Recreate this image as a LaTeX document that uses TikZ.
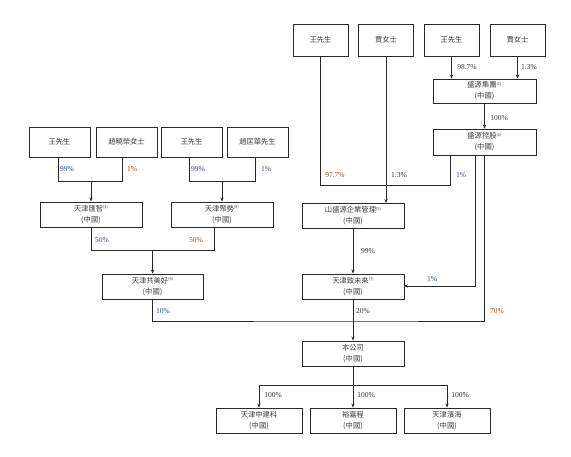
\documentclass[tikz,border=0pt]{standalone}
\usepackage{fontspec}
\setmainfont{Liberation Serif}
\newfontfamily\cjk{Noto Sans CJK TC}
\usetikzlibrary{arrows.meta}
\definecolor{lineC}{RGB}{40,40,40}
\definecolor{txtC}{RGB}{60,60,60}
\definecolor{lblD}{RGB}{55,55,55}
\definecolor{lblB}{RGB}{50,75,130}
\definecolor{lblO}{RGB}{140,85,35}
\newcommand{\nt}[1]{\raisebox{2.6pt}{\fontsize{4}{4}\selectfont(#1)}}
\tikzset{
  box/.style={draw=lineC, line width=0.9pt, align=center, inner sep=0pt,
    font=\cjk\fontsize{7.3}{11}\selectfont, text=txtC},
  pbox/.style={box, minimum width=55pt, minimum height=32pt},
  lbox/.style={box, minimum width=61pt, minimum height=30pt},
  ebox/.style={box, minimum width=102pt, minimum height=25pt},
  sbox/.style={box, minimum width=86pt, minimum height=25pt},
  conn/.style={draw=lineC, line width=0.8pt},
  arr/.style={conn, -{Stealth[length=4pt,width=3.2pt]}},
  pct/.style={font=\fontsize{7.5}{8}\selectfont, inner sep=0pt},
}
\begin{document}
\begin{tikzpicture}[x=1pt,y=-1pt]
\useasboundingbox[fill=white] (0,0) rectangle (571,457);
% top row
\node[pbox] (wang1) at (320.5,40) {王先生};
\node[pbox] (jia1) at (386,40) {賈女士};
\node[pbox] (wang2) at (451.5,40) {王先生};
\node[pbox] (jia2) at (517.5,40) {賈女士};
\node[ebox, minimum width=103pt, minimum height=24pt] (syjt) at (484.5,91) {盛源集團\nt{1}\\(中國)};
\node[ebox, minimum width=103pt, minimum height=26pt] (sykg) at (484.5,142) {盛源控股\nt{2}\\(中國)};
% left
\node[lbox] (wangL1) at (59.5,142) {王先生};
\node[lbox] (zhaoXR) at (126.5,142) {趙曉榮女士};
\node[lbox] (wangL2) at (191.5,142) {王先生};
\node[lbox] (zhaoKH) at (257.5,142) {趙匡華先生};
\node[ebox] (hz) at (91,214.5) {天津匯智\nt{3}\\(中國)};
\node[ebox] (js) at (222,214.5) {天津聚勢\nt{4}\\(中國)};
\node[ebox, minimum width=101pt] (gmh) at (152.5,286.5) {天津共美好\nt{6}\\(中國)};
% middle
\node[ebox] (ssy) at (353,216) {山盛源企業管理\nt{5}\\(中國)};
\node[ebox] (zwl) at (353,286.5) {天津致未來\nt{7}\\(中國)};
\node[ebox] (bgs) at (353,353.5) {本公司\\(中國)};
% bottom
\node[sbox] (zjk) at (259,420.5) {天津中建科\\(中國)};
\node[sbox] (yjc) at (353,420.5) {裕嘉程\\(中國)};
\node[sbox] (bh) at (447,420.5) {天津濱海\\(中國)};
% junction coordinates
\coordinate (jL) at (91,181);
\coordinate (jR) at (222,181);
\coordinate (jM) at (152.5,250);
\coordinate (jT) at (320.5,185);
\coordinate (jZ) at (404,286);
\coordinate (jB) at (353,321);
\coordinate (jD) at (353,385);
% left connectors
\draw[conn] ([xshift=-1.5pt]wangL1.south) |- ([xshift=-4.5pt]zhaoXR.south |- jL) -- ([xshift=-4.5pt]zhaoXR.south);
\draw[arr] (jL) -- (hz.north);
\draw[conn] ([xshift=-2.5pt]wangL2.south) |- ([xshift=-2.5pt]zhaoKH.south |- jR) -- ([xshift=-2.5pt]zhaoKH.south);
\draw[arr] (jR) -- (js.north);
\draw[conn] (hz.south) |- ([xshift=-8pt]js.south |- jM) -- ([xshift=-8pt]js.south);
\draw[arr] (jM) -- (gmh.north);
% top connectors
\draw[arr] (wang2.south) -- (wang2.south |- syjt.north);
\draw[arr] (jia2.south) -- (jia2.south |- syjt.north);
\draw[arr] (syjt.south) -- (sykg.north);
\draw[conn] (wang1.south) -- (jT) -| ([xshift=-34.5pt]sykg.south);
\draw[arr] (jia1.south) -- (jia1.south |- ssy.north);
\draw[arr] (ssy.south) -- (zwl.north);
\draw[arr] ([xshift=-9.5pt]sykg.south) |- (jZ);
\draw[conn] (gmh.south) |- (jB) -| (sykg.south);
\draw[arr] (zwl.south) -- (bgs.north);
\draw[conn] (bgs.south) -- (jD);
\draw[arr] (jD) -| (zjk.north);
\draw[arr] (jD) -- (yjc.north);
\draw[arr] (jD) -| (bh.north);
% labels
\node[pct, text=lblD] (p1) at (467,67) {98.7\%};
\node[pct, text=lblD] (p2) at (529,67) {1.3\%};
\node[pct, text=lblD] (p3) at (499,118) {100\%};
\node[pct, text=lblO] (p4) at (335,175) {97.7\%};
\node[pct, text=lblD] (p5) at (399,175) {1.3\%};
\node[pct, text=lblB] (p6) at (461,175) {1\%};
\node[pct, text=lblD] (p7) at (368,251) {99\%};
\node[pct, text=lblB] (p8) at (432,279) {1\%};
\node[pct, text=lblB] (p9) at (163,311) {10\%};
\node[pct, text=lblD] (p10) at (363,311) {20\%};
\node[pct, text=lblO] (p11) at (497,311) {70\%};
\node[pct, text=lblB] (p12) at (67,169) {99\%};
\node[pct, text=lblO] (p13) at (132,169) {1\%};
\node[pct, text=lblB] (p14) at (198,169) {99\%};
\node[pct, text=lblB] (p15) at (266,169) {1\%};
\node[pct, text=lblB] (p16) at (102,240) {50\%};
\node[pct, text=lblO] (p17) at (196,240) {50\%};
\node[pct, text=lblD] (p18) at (273,395) {100\%};
\node[pct, text=lblD] (p19) at (366,395) {100\%};
\node[pct, text=lblD] (p20) at (460,395) {100\%};
\end{tikzpicture}
\end{document}
